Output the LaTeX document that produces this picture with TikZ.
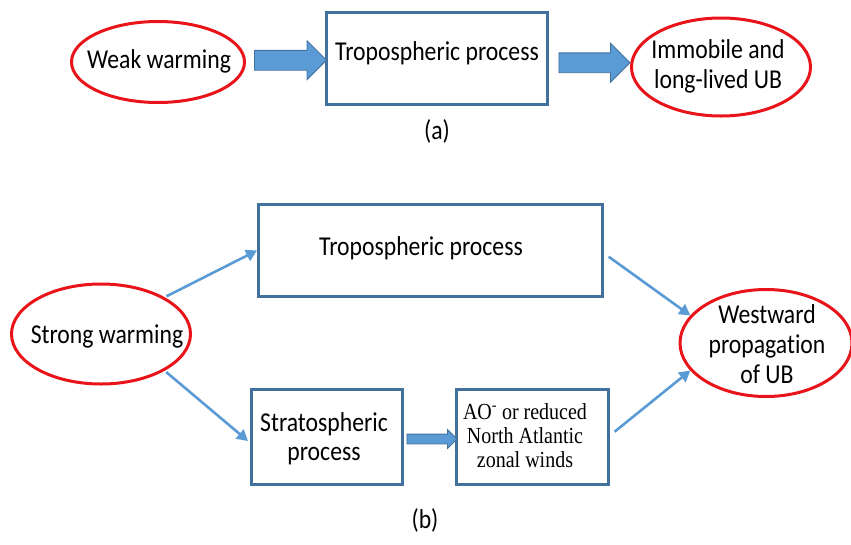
\documentclass[tikz,border=0pt]{standalone}
\usepackage{fontspec}
\usepackage{graphicx}
\setmainfont{Carlito}[Ligatures=NoCommon]
\newfontfamily\seriffont{Liberation Serif}
\usetikzlibrary{shapes.geometric,shapes.arrows,arrows.meta,calc}
\definecolor{ellred}{RGB}{232,20,26}
\definecolor{boxblue}{RGB}{65,113,156}
\definecolor{arrblue}{RGB}{91,155,213}
\newcommand{\talltext}[1]{\scalebox{1}[1.15]{\begin{tabular}{@{}c@{}}#1\end{tabular}}}
\begin{document}
\begin{tikzpicture}[x=1pt,y=-1pt,
  font=\fontsize{23.7}{26}\selectfont,
  oval/.style={ellipse, draw=ellred, line width=3pt, inner sep=0pt},
  procbox/.style={draw=boxblue, line width=3pt, inner sep=0pt, align=center},
  plaintext/.style={inner sep=0pt, align=center},
  blockarrow/.style={single arrow, fill=arrblue, draw=boxblue, line width=0.8pt,
    inner xsep=0pt, single arrow tip angle=90, single arrow head indent=0pt},
  thinarrow/.style={draw=arrblue, line width=2.6pt, -{Triangle[length=11pt,width=12pt]}, shorten <=2pt}
]
\useasboundingbox (0,0) rectangle (851,544);

% (a)
\node[oval, minimum width=173, minimum height=81] (ww) at (158,62) {};
\node[plaintext] (wwtxt) at (159,62.5) {\talltext{Weak warming}};
\node[procbox, minimum width=221, minimum height=92] (ta) at (437,58.5) {};
\node[plaintext] (tatxt) at (437,55) {\talltext{Tropospheric process}};
\node[oval, minimum width=179, minimum height=98] (im) at (721,67) {};
\node[plaintext] (imtxt) at (718,67.5) {\talltext{Immobile and\\long-lived UB}};
\node[blockarrow, minimum height=72, inner ysep=9.5pt, single arrow head extend=9.5pt] (a1) at ($(ww.east)!0.5!(ta.west)$) {};
\node[blockarrow, minimum height=71, inner ysep=9.5pt, single arrow head extend=9.5pt] (a2) at ($(ta.east)!0.5!(im.west)$) {};
\node[plaintext] (la) at (437,134) {\talltext{(a)}};

% (b)
\node[procbox, minimum width=344, minimum height=92] (t2) at (430.5,250.5) {};
\node[plaintext] (t2txt) at (421,250) {\talltext{Tropospheric process}};
\node[oval, minimum width=179, minimum height=100] (sw) at (101,334) {};
\node[plaintext] (swtxt) at (107,337.5) {\talltext{Strong warming}};
\node[oval, minimum width=172, minimum height=107] (wp) at (766,343) {};
\node[plaintext] (wptxt) at (767,347.5) {\talltext{Westward\\propagation\\of UB}};
\node[procbox, minimum width=151, minimum height=95] (st) at (327,437) {};
\node[plaintext] (sttxt) at (324,440) {\talltext{Stratospheric\\process}};
\node[procbox, minimum width=152, minimum height=95] (ao) at (532.5,437) {};
\node[plaintext, font=\seriffont\fontsize{20}{21}\selectfont] (aotxt) at (525,438.5) {\talltext{AO\textsuperscript{-} or reduced\\North Atlantic\\zonal winds}};
\node[blockarrow, minimum height=50, inner ysep=4.5pt, single arrow head extend=4.5pt] (a3) at ($(st.east)!0.5!(ao.west)+(0,2)$) {};
\node[plaintext] (lb) at (425,523) {\talltext{(b)}};

\draw[thinarrow] (sw.30) -- (t2.west);
\draw[thinarrow] (sw.-30) -- ($(st.west)+(-2,4)$);
\draw[thinarrow] ($(t2.east)+(3,5)$) -- (wp.160);
\draw[thinarrow] ($(ao.east)+(3,-4)$) -- (wp.200);
\end{tikzpicture}
\end{document}
